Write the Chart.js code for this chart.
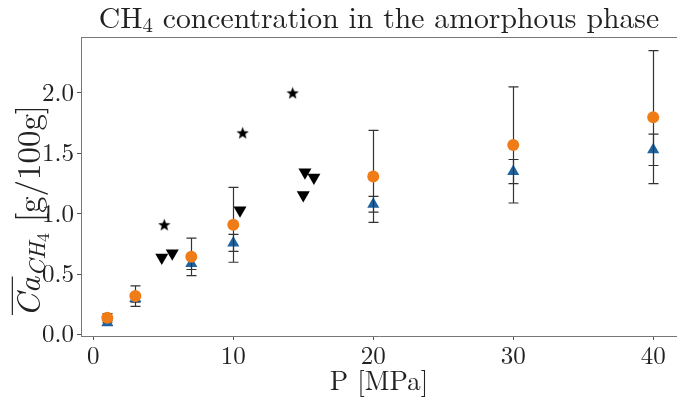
<!DOCTYPE html>
<html>
<head>
<meta charset="utf-8">
<script src="https://cdn.jsdelivr.net/npm/chart.js@4"></script>
<style>
  html, body { margin: 0; padding: 0; background: #fff; }
  #wrap { width: 677px; height: 397px; }
</style>
</head>
<body>
<div id="wrap"><canvas id="chart" width="677" height="397"></canvas></div>
<script>
// data
const pressure = [1, 3, 7, 10, 20, 30, 40];
const caOrange = [0.14, 0.32, 0.645, 0.91, 1.31, 1.57, 1.80];
const errOrange = [0.035, 0.085, 0.155, 0.31, 0.38, 0.48, 0.55];
const caBlue = [0.10, 0.30, 0.59, 0.76, 1.08, 1.35, 1.53];
const errBlue = [0.02, 0.03, 0.05, 0.07, 0.065, 0.10, 0.13];
const starP = [5.07, 10.67, 14.24];
const starCa = [0.91, 1.67, 2.00];
const downP = [4.89, 5.64, 10.48, 15.12, 15.76, 15.0];
const downCa = [0.64, 0.675, 1.03, 1.345, 1.30, 1.157];
const xTicks = [0, 10, 20, 30, 40];
const yTicks = [0.0, 0.5, 1.0, 1.5, 2.0];

const SERIF = "'Latin Modern Roman', 'Liberation Serif', serif";
const ORANGE = '#f07c18';
const BLUE = '#1f64a0';

function pts(xs, ys) {
    return xs.map(function(x, i) { return { x: x, y: ys[i] }; });
}

// filled five point star for the black markers
function makeStar(size) {
    const c = document.createElement('canvas');
    c.width = size; c.height = size;
    const g = c.getContext('2d');
    const r = size / 2, ri = r * 0.42;
    g.beginPath();
    for (let k = 0; k < 10; k++) {
        const rr = k % 2 === 0 ? r : ri;
        const a = -Math.PI / 2 + k * Math.PI / 5;
        const px = r + rr * Math.cos(a), py = r + 0.5 + rr * Math.sin(a);
        if (k === 0) g.moveTo(px, py); else g.lineTo(px, py);
    }
    g.closePath();
    g.fillStyle = '#000';
    g.fill();
    return c;
}

// error bars drawn just before their own markers
const errorBars = {
    id: 'errorBars',
    beforeDatasetDraw: function(chart, args) {
        const ds = chart.data.datasets[args.index];
        if (!ds.errors) return;
        const ctx = chart.ctx, xs = chart.scales.x, ys = chart.scales.y;
        ctx.save();
        ctx.strokeStyle = '#333';
        ctx.lineWidth = 1.2;
        ds.data.forEach(function(p, i) {
            const e = ds.errors[i];
            const x = Math.round(xs.getPixelForValue(p.x)) + 0.5;
            const t = ys.getPixelForValue(p.y + e);
            const b = ys.getPixelForValue(p.y - e);
            ctx.beginPath();
            ctx.moveTo(x, t); ctx.lineTo(x, b);
            ctx.moveTo(x - 5, t); ctx.lineTo(x + 5, t);
            ctx.moveTo(x - 5, b); ctx.lineTo(x + 5, b);
            ctx.stroke();
        });
        ctx.restore();
    }
};

// title, axis labels and top spine
const labels = {
    id: 'labels',
    afterDraw: function(chart) {
        const ctx = chart.ctx, area = chart.chartArea;
        ctx.save();
        ctx.strokeStyle = '#777';
        ctx.lineWidth = 1;
        ctx.beginPath();
        ctx.moveTo(area.left, area.top + 0.5);
        ctx.lineTo(area.right, area.top + 0.5);
        ctx.stroke();

        ctx.fillStyle = '#222';
        ctx.textBaseline = 'alphabetic';

        // title, sized to the width it takes in the reference
        const rest = ' concentration in the amorphous phase';
        ctx.font = '28px ' + SERIF;
        let tw = ctx.measureText('CH' + rest).width + 28 * 0.5;
        const ts = 28 * 565 / tw;
        ctx.font = ts + 'px ' + SERIF; const w1 = ctx.measureText('CH').width;
        const w3 = ctx.measureText(rest).width;
        ctx.font = (ts * 0.7) + 'px ' + SERIF; const w2 = ctx.measureText('4').width;
        tw = w1 + w2 + w3;
        let x = (area.left + area.right) / 2 - tw / 2;
        ctx.font = ts + 'px ' + SERIF; ctx.fillText('CH', x, 28); x += w1;
        ctx.font = (ts * 0.7) + 'px ' + SERIF; ctx.fillText('4', x, 32); x += w2;
        ctx.font = ts + 'px ' + SERIF; ctx.fillText(rest, x, 28);

        // x label
        ctx.font = '27px ' + SERIF;
        ctx.textAlign = 'center';
        ctx.fillText('P [MPa]', (area.left + area.right) / 2, 390);
        ctx.textAlign = 'left';

        // y label: overline Ca with CH4 subscript, sized to 212px long
        function fonts(fs) {
            return ['italic ' + fs + 'px ' + SERIF, 'italic ' + (fs * 0.72) + 'px ' + SERIF,
                    (fs * 0.55) + 'px ' + SERIF, fs + 'px ' + SERIF];
        }
        const parts = ['Ca', 'CH', '4', ' [g/100g]'];
        function widths(fs) {
            const f = fonts(fs);
            return parts.map(function(p, i) { ctx.font = f[i]; return ctx.measureText(p).width; });
        }
        let w = widths(27);
        const fs = 27 * 212 / w.reduce(function(s, v) { return s + v; }, 0);
        w = widths(fs);
        const f = fonts(fs);
        const total = w.reduce(function(s, v) { return s + v; }, 0);
        const offs = [0, 5, 9, 0];
        ctx.save();
        ctx.translate(40, 211);
        ctx.rotate(-Math.PI / 2);
        let y = -total / 2;
        ctx.lineWidth = 1.2;
        ctx.strokeStyle = '#222';
        ctx.beginPath();
        ctx.moveTo(y + 2, -fs * 0.84); ctx.lineTo(y + w[0], -fs * 0.84);
        ctx.stroke();
        parts.forEach(function(p, i) {
            ctx.font = f[i];
            ctx.fillText(p, y, offs[i]);
            y += w[i];
        });
        ctx.restore();
        ctx.restore();
    }
};

function draw() {
    const ctx = document.getElementById('chart').getContext('2d');
    new Chart(ctx, {
        type: 'scatter',
        data: {
            datasets: [{
                label: 'orange',
                data: pts(pressure, caOrange),
                errors: errOrange,
                pointStyle: 'circle',
                pointRadius: 6,
                backgroundColor: ORANGE,
                borderWidth: 0
            }, {
                label: 'blue',
                data: pts(pressure, caBlue),
                errors: errBlue,
                pointStyle: 'triangle',
                pointRadius: 7,
                backgroundColor: BLUE,
                borderWidth: 0
            }, {
                label: 'stars',
                data: pts(starP, starCa),
                pointStyle: makeStar(13),
                pointRadius: 6.5,
                backgroundColor: '#000'
            }, {
                label: 'down',
                data: pts(downP, downCa),
                pointStyle: 'triangle',
                rotation: 180,
                pointRadius: 7.5,
                backgroundColor: '#000',
                borderWidth: 0
            }]
        },
        options: {
            responsive: false,
            animation: false,
            layout: { autoPadding: false, padding: { top: 37, right: 0, bottom: 0, left: 0 } },
            plugins: {
                legend: { display: false },
                tooltip: { enabled: false }
            },
            scales: {
                x: {
                    type: 'linear',
                    min: -0.88,
                    max: 41.7,
                    afterBuildTicks: function(s) { s.ticks = xTicks.map(function(v) { return { value: v }; }); },
                    afterFit: function(s) { s.height = 61; s.paddingLeft = 0; s.paddingRight = 0; },
                    ticks: {
                        font: { family: SERIF, size: 25 },
                        color: '#222',
                        padding: 1,
                        maxRotation: 0
                    },
                    grid: { drawOnChartArea: false, tickLength: 4, color: '#555' },
                    border: { color: '#777', width: 1 }
                },
                y: {
                    min: -0.01,
                    max: 2.463,
                    afterBuildTicks: function(s) { s.ticks = yTicks.map(function(v) { return { value: v }; }); },
                    afterFit: function(s) { s.width = 81; s.paddingTop = 0; s.paddingBottom = 0; },
                    ticks: {
                        font: { family: SERIF, size: 25 },
                        color: '#222',
                        padding: 3,
                        callback: function(v) { return v.toFixed(1); }
                    },
                    grid: { drawOnChartArea: false, tickLength: 4, color: '#555' },
                    border: { color: '#777', width: 1 }
                }
            }
        },
        plugins: [errorBars, labels]
    });
}

document.addEventListener('DOMContentLoaded', function() {
    Promise.all([
        document.fonts.load('24px "Latin Modern Roman"'),
        document.fonts.load('italic 24px "Latin Modern Roman"')
    ]).then(draw, draw);
});
</script>
</body>
</html>
